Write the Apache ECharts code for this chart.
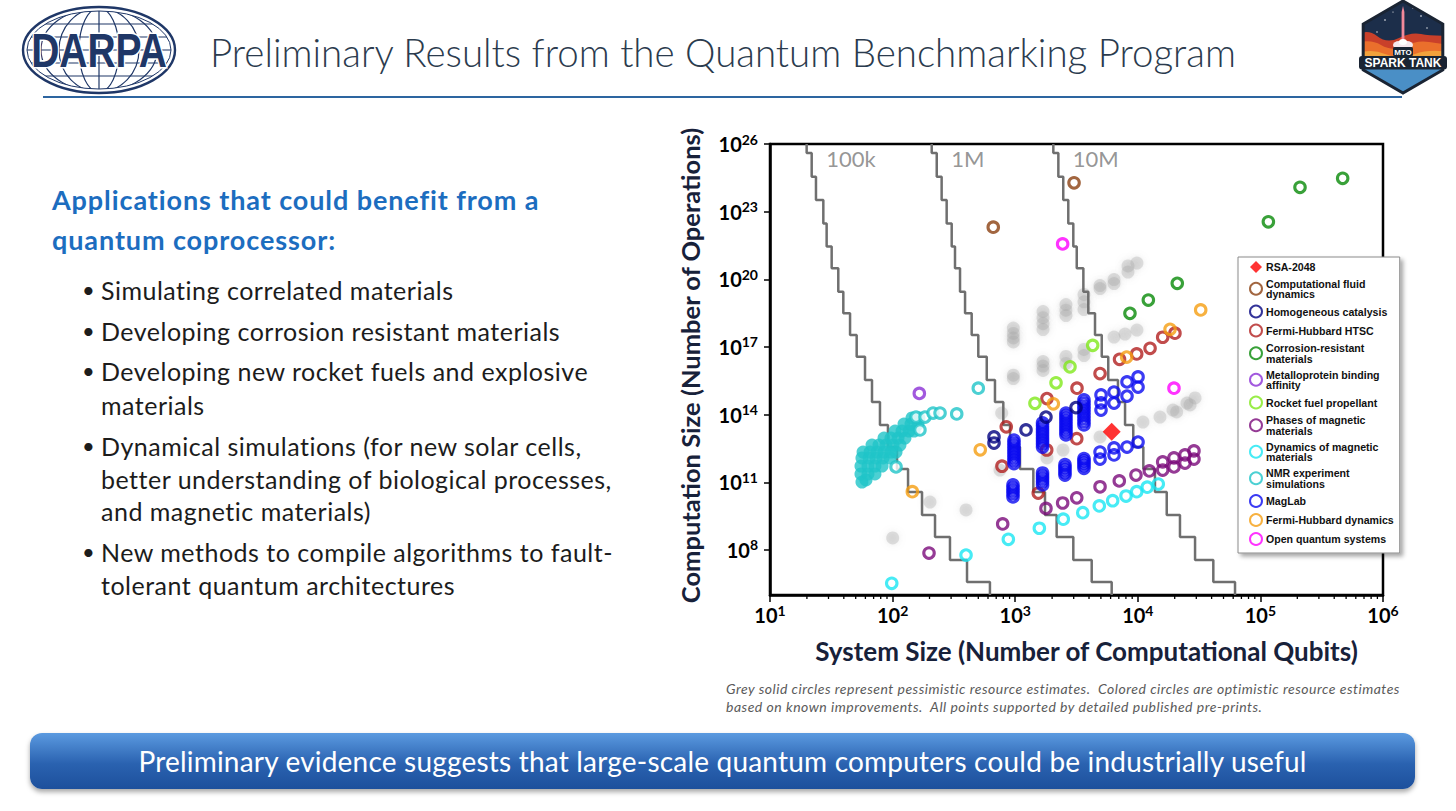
<!DOCTYPE html>
<html>
<head>
<meta charset="utf-8">
<title>Preliminary Results from the Quantum Benchmarking Program</title>
<script src="https://cdn.jsdelivr.net/npm/echarts@6.0.0/dist/echarts.min.js"></script>
<style>
  html, body { margin: 0; padding: 0; background: #fff; }
  body { width: 1456px; height: 811px; position: relative; overflow: hidden; font-family: Lato, "Open Sans", sans-serif; }
  #chart { position: absolute; left: 0; top: 0; width: 1456px; height: 811px; }
  .t { position: absolute; white-space: nowrap; }
  .title { left: 210px; top: 26px; line-height: 52px; font-size: 38.5px; font-weight: 300; color: #2b3b4e; }
  .head { left: 52px; line-height: 32px; font-size: 27px; letter-spacing: 0.9px; font-weight: bold; color: #1c6dbf; }
  .bul { left: 101px; line-height: 32px; font-size: 25px; letter-spacing: 0.5px; color: #1c1c1c; }
  .dot { position: absolute; left: -19px; font-size: 22px; }
  .note { left: 726px; line-height: 18px; font-size: 14px; letter-spacing: 0.5px; font-style: italic; color: #5a5a5a; }
  .rule { position: absolute; left: 43px; top: 95.5px; width: 1359px; height: 2.5px; background: #2d65a0; }
  .banner { position: absolute; left: 30px; top: 733px; width: 1385px; height: 56px; border-radius: 12px;
            background: linear-gradient(#5b9ae0, #2a62b0 55%, #1d509c); box-shadow: 0 3px 5px rgba(0,0,0,0.35);
            color: #fff; font-size: 28px; letter-spacing: 0.2px; line-height: 56px; text-align: center; }
</style>
</head>
<body>
<div id="chart"></div>

<svg style="position:absolute;left:0;top:0" width="200" height="100" viewBox="0 0 200 100">
  <defs><clipPath id="globe"><ellipse cx="99" cy="50" rx="72" ry="39"/></clipPath></defs>
  <g clip-path="url(#globe)" stroke="#1f3767" stroke-width="1.2" fill="none">
    <line x1="20" y1="24" x2="180" y2="24"/>
    <line x1="20" y1="37" x2="180" y2="37"/>
    <line x1="20" y1="50" x2="180" y2="50"/>
    <line x1="20" y1="63" x2="180" y2="63"/>
    <line x1="20" y1="76" x2="180" y2="76"/>
    <line x1="99" y1="0" x2="99" y2="100"/>
    <ellipse cx="99" cy="50" rx="20" ry="42"/>
    <ellipse cx="99" cy="50" rx="40" ry="42"/>
    <ellipse cx="99" cy="50" rx="58" ry="42"/>
  </g>
  <ellipse cx="99" cy="50" rx="76" ry="43" fill="none" stroke="#1f3767" stroke-width="2.4"/>
  <ellipse cx="99" cy="50" rx="72" ry="39" fill="none" stroke="#1f3767" stroke-width="1"/>
  <text transform="translate(99,67) scale(1,1.25)" text-anchor="middle" font-family="Liberation Sans Narrow, Liberation Sans" font-weight="bold"
        font-size="39" fill="#1f3767" stroke="#fff" stroke-width="2.5" paint-order="stroke">DARPA</text>
</svg>

<svg style="position:absolute;left:1355px;top:0" width="100" height="100" viewBox="0 0 100 100">
  <defs><clipPath id="hex"><polygon points="48,1 87.8,24 87.8,70 48,93 8.2,70 8.2,24"/></clipPath></defs>
  <g clip-path="url(#hex)">
    <rect x="0" y="0" width="100" height="100" fill="#1c2e4a"/>
    <circle cx="30" cy="20" r="0.8" fill="#fff"/><circle cx="66" cy="16" r="0.8" fill="#fff"/>
    <circle cx="72" cy="28" r="0.7" fill="#fff"/><circle cx="22" cy="32" r="0.7" fill="#fff"/>
    <circle cx="58" cy="8" r="0.7" fill="#fff"/><circle cx="38" cy="12" r="0.6" fill="#fff"/>
    <path d="M0,36 Q12,28 22,36 T44,38 T66,34 T100,36 L100,80 L0,80 Z" fill="#c9402a"/>
    <path d="M0,44 Q14,38 26,45 T50,46 T74,42 T100,45 L100,80 L0,80 Z" fill="#ea6f2c"/>
    <path d="M0,54 Q16,48 30,54 T60,54 T100,53 L100,80 L0,80 Z" fill="#f3a23c"/>
    <rect x="0" y="69" width="100" height="30" fill="#4a8fc6"/>
    <rect x="46.6" y="12" width="2.8" height="30" fill="#f2899a"/>
    <polygon points="46.6,12 48,6 49.4,12" fill="#f2899a"/>
    <ellipse cx="44" cy="45" rx="6" ry="4" fill="#f6e8ee"/>
    <ellipse cx="52" cy="45" rx="6" ry="4" fill="#f6e8ee"/>
    <ellipse cx="48" cy="42" rx="4" ry="3" fill="#fff"/>
  </g>
  <polygon points="48,1 87.8,24 87.8,70 48,93 8.2,70 8.2,24" fill="none" stroke="#1a2433" stroke-width="3"/>
  <rect x="38" y="47" width="20" height="9" rx="1.5" fill="#1a2433"/>
  <text x="48" y="54.6" text-anchor="middle" font-family="Liberation Sans" font-weight="bold" font-size="8" fill="#fff">MTO</text>
  <rect x="4" y="56" width="88" height="13.5" rx="3" fill="#1a2433"/>
  <text x="48" y="67" text-anchor="middle" font-family="Liberation Sans Narrow, Liberation Sans" font-weight="bold" font-size="12" fill="#fff">SPARK TANK</text>
</svg>

<div class="t title">Preliminary Results from the Quantum Benchmarking Program</div>
<div class="rule"></div>

<div class="t head" style="top:184px">Applications that could benefit from a</div>
<div class="t head" style="top:224px">quantum coprocessor:</div>

<div class="t bul" style="top:274px"><span class="dot">•</span>Simulating correlated materials</div>
<div class="t bul" style="top:315px"><span class="dot">•</span>Developing corrosion resistant materials</div>
<div class="t bul" style="top:355px"><span class="dot">•</span>Developing new rocket fuels and explosive</div>
<div class="t bul" style="top:389px">materials</div>
<div class="t bul" style="top:430px"><span class="dot">•</span>Dynamical simulations (for new solar cells,</div>
<div class="t bul" style="top:463px">better understanding of biological processes,</div>
<div class="t bul" style="top:495px">and magnetic materials)</div>
<div class="t bul" style="top:536px"><span class="dot">•</span>New methods to compile algorithms to fault-</div>
<div class="t bul" style="top:569px">tolerant quantum architectures</div>

<div class="t note" style="top:680px">Grey solid circles represent pessimistic resource estimates.&nbsp; Colored circles are optimistic resource estimates</div>
<div class="t note" style="top:698px">based on known improvements.&nbsp; All points supported by detailed published pre-prints.</div>

<div class="banner">Preliminary evidence suggests that large-scale quantum computers could be industrially useful</div>

<script>
// values are log10: x = log10(computational qubits), y = log10(operations)
const xTickExponents = [1, 2, 3, 4, 5, 6];
const yTickExponents = [8, 11, 14, 17, 20, 23, 26];

// staircase contours (physical-qubit budgets)
const stepLabels = ['100k', '1M', '10M'];
const stepLevels = [26, 25.6, 24.55, 23.52, 22.48, 21.45, 20.49, 19.45, 18.49, 17.53, 16.57, 15.53, 14.56, 13.54, 12.56, 11.59, 10.57, 9.55, 8.57, 7.55, 6.58, 6];
const line100kX = [1.299, 1.340, 1.375, 1.435, 1.462, 1.503, 1.557, 1.598, 1.653, 1.707, 1.775, 1.832, 1.897, 1.962, 2.036, 2.126, 2.240, 2.346, 2.468, 2.607, 2.794, 2.794];
const line1MX = [2.319, 2.360, 2.400, 2.441, 2.482, 2.509, 2.550, 2.591, 2.645, 2.699, 2.768, 2.835, 2.903, 2.958, 3.039, 3.148, 3.243, 3.338, 3.474, 3.624, 3.787, 3.787];
const line10MX = [3.311, 3.352, 3.392, 3.433, 3.474, 3.502, 3.556, 3.596, 3.651, 3.706, 3.759, 3.838, 3.896, 3.963, 4.045, 4.140, 4.236, 4.344, 4.467, 4.616, 4.793, 4.793];

// grey = pessimistic estimates
const greyPoints = [
  [2.985, 17.84], [2.985, 17.6], [2.985, 17.4], [2.985, 17.22], [2.985, 15.75], [2.985, 15.6],
  [3.227, 18.57], [3.227, 18.3], [3.227, 18.03], [3.227, 17.77], [3.227, 16.35], [3.227, 16.15], [3.227, 15.96],
  [3.414, 18.88], [3.414, 18.63], [3.414, 18.39], [3.414, 16.58], [3.414, 16.27],
  [3.561, 19.33], [3.561, 19.0], [3.561, 18.66], [3.561, 16.89], [3.561, 16.62],
  [3.692, 19.72], [3.692, 19.59], [3.806, 19.99], [3.806, 19.81],
  [3.806, 17.44], [3.896, 17.57], [3.993, 17.75], [3.920, 20.59], [3.920, 20.32], [3.993, 20.72],
  [2.890, 14.07], [2.876, 11.54], [2.305, 10.12], [2.599, 9.77], [2.001, 8.53],
  [3.692, 13.01], [3.390, 12.43], [3.259, 12.08], [4.042, 13.67], [4.181, 13.89], [4.287, 14.20],
  [4.317, 14.12], [4.401, 14.51], [4.426, 14.43], [4.467, 14.74]
];

const rsaPoint = [[3.787, 13.24]];
const cfdPoints = [[3.480, 24.28], [2.821, 22.31]];
const homogPoints = [[2.827, 13.01], [2.827, 12.74], [3.088, 13.32], [3.251, 13.89], [3.496, 14.31]];
const htscPoints = [
  [4.303, 17.61], [4.203, 17.43], [4.100, 16.94], [3.991, 16.69], [3.851, 16.45], [3.692, 15.82], [3.504, 15.17],
  [3.259, 14.71], [2.927, 13.46], [3.502, 12.93], [3.257, 12.43], [2.892, 11.71], [3.188, 10.52]
];
const corrosionPoints = [[3.936, 18.49], [4.086, 19.08], [4.322, 19.82], [5.065, 22.55], [5.323, 24.08], [5.671, 24.48]];
const metalloPoints = [[2.218, 14.94]];
const rocketPoints = [[3.161, 14.50], [3.333, 15.41], [3.447, 16.12], [3.632, 17.07]];
const phasesPoints = [
  [2.297, 7.86], [2.898, 9.15], [3.251, 9.84], [3.387, 10.08], [3.502, 10.31], [3.692, 10.80], [3.849, 11.06],
  [3.985, 11.32], [4.094, 11.50], [4.203, 11.54], [4.203, 11.90], [4.295, 11.68], [4.295, 12.08],
  [4.385, 11.85], [4.385, 12.21], [4.458, 12.03], [4.458, 12.39]
];
const dynamicsPoints = [
  [1.993, 6.52], [2.599, 7.77], [2.944, 8.47], [3.197, 8.96], [3.392, 9.36], [3.551, 9.65], [3.686, 9.95],
  [3.795, 10.18], [3.904, 10.39], [3.991, 10.58], [4.077, 10.78], [4.167, 10.92]
];
const nmrRingPoints = [[2.191, 13.89], [2.264, 13.89], [2.330, 14.07], [2.387, 14.07], [2.028, 11.68], [2.223, 13.32], [2.523, 14.03], [2.699, 15.17]];
const nmrDensePoints = [
  [1.750, 11.01], [1.783, 11.10],
  [1.742, 11.37], [1.799, 11.37], [1.856, 11.37],
  [1.742, 11.72], [1.799, 11.72], [1.856, 11.72], [1.914, 11.72],
  [1.750, 12.08], [1.808, 12.08], [1.865, 12.08], [1.922, 12.08], [1.979, 12.08],
  [1.759, 12.34], [1.816, 12.34], [1.873, 12.34], [1.930, 12.34], [1.987, 12.34], [2.028, 12.34],
  [1.832, 12.65], [1.889, 12.65], [1.946, 12.65], [2.003, 12.65], [2.060, 12.65],
  [1.930, 12.96], [1.987, 12.96], [2.044, 12.96], [2.101, 12.96],
  [2.020, 13.27], [2.077, 13.27], [2.134, 13.27], [2.175, 13.27],
  [2.093, 13.58], [2.150, 13.58], [2.207, 13.58],
  [2.158, 13.85], [2.215, 13.85]
];
const maglabPoints = [
  [2.990, 12.87], [2.990, 12.74], [2.990, 12.61], [2.990, 12.48], [2.990, 12.35], [2.990, 12.22], [2.990, 12.09], [2.990, 11.96], [2.990, 11.83],
  [2.982, 10.88], [2.982, 10.75], [2.982, 10.62], [2.982, 10.49], [2.982, 10.35],
  [3.223, 13.63], [3.223, 13.50], [3.223, 13.36], [3.223, 13.23], [3.223, 13.10], [3.223, 12.96], [3.223, 12.83], [3.223, 12.70], [3.223, 12.56],
  [3.223, 11.41], [3.223, 11.28], [3.223, 11.15], [3.223, 11.02], [3.223, 10.88],
  [3.414, 14.07], [3.414, 13.95], [3.414, 13.83], [3.414, 13.71], [3.414, 13.58], [3.414, 13.46], [3.414, 13.34], [3.414, 13.22], [3.414, 13.10],
  [3.406, 11.78], [3.406, 11.66], [3.406, 11.55], [3.406, 11.43], [3.406, 11.32],
  [3.561, 14.65], [3.561, 14.51], [3.561, 14.37], [3.561, 14.24], [3.561, 14.10], [3.561, 13.96], [3.561, 13.82], [3.561, 13.68], [3.561, 13.54],
  [3.561, 12.05], [3.561, 11.95], [3.561, 11.85], [3.561, 11.74], [3.561, 11.62],
  [3.700, 14.87], [3.700, 14.52], [3.700, 14.20], [3.806, 15.00], [3.806, 14.51], [3.912, 15.45], [3.912, 14.82],
  [4.002, 15.67], [4.002, 15.22], [3.692, 12.34], [3.692, 12.03], [3.806, 12.52], [3.806, 12.21], [3.912, 12.56], [4.002, 12.78]
];
const fhDynPoints = [[4.513, 18.64], [4.263, 17.78], [3.909, 16.55], [3.311, 14.48], [2.715, 12.44], [2.161, 10.58]];
const openPoints = [[3.387, 21.57], [4.295, 15.17]];

const NAMES = {
  rsa: 'RSA-2048', cfd: 'Computational fluid\ndynamics', homog: 'Homogeneous catalysis',
  htsc: 'Fermi-Hubbard HTSC', corr: 'Corrosion-resistant\nmaterials', metal: 'Metalloprotein binding\naffinity',
  rocket: 'Rocket fuel propellant', phases: 'Phases of magnetic\nmaterials', dyn: 'Dynamics of magnetic\nmaterials',
  nmr: 'NMR experiment\nsimulations', mag: 'MagLab', fhdyn: 'Fermi-Hubbard dynamics', open: 'Open quantum systems'
};

const sup = e => '{b|10}{s|' + e + '}';
const tickRich = {
  b: { fontFamily: 'Lato', fontWeight: 'bold', fontSize: 20, color: '#000', lineHeight: 24 },
  s: { fontFamily: 'Lato', fontWeight: 'bold', fontSize: 14, color: '#000', lineHeight: 14, verticalAlign: 'top' }
};
const titleStyle = { fontFamily: 'Lato', fontWeight: 'bold', fontSize: 26, color: '#17213a' };

function ring(name, data, color, fill) {
  return {
    name: name, type: 'scatter', data: data, symbol: 'circle', symbolSize: 10.5, z: 4,
    itemStyle: { color: fill || 'rgba(255,255,255,0)', borderColor: color, borderWidth: 3.1 }
  };
}

const series = [];
series.push({
  type: 'scatter', data: greyPoints, symbolSize: 13, z: 1, silent: true,
  itemStyle: { color: 'rgba(170,170,170,0.42)', shadowBlur: 6, shadowColor: 'rgba(150,150,150,0.6)' }
});
[line100kX, line1MX, line10MX].forEach(xs => {
  series.push({
    type: 'line', step: 'start', symbol: 'none', z: 2, silent: true,
    data: xs.map((x, i) => [x, stepLevels[i]]),
    lineStyle: { color: '#6f6f6f', width: 2.5 }
  });
});
series.push({
  type: 'scatter', symbolSize: 1, z: 2, silent: true, itemStyle: { color: 'rgba(0,0,0,0)' },
  data: [line100kX, line1MX, line10MX].map((xs, i) => ({ value: [xs[0], stepLevels[0]], name: stepLabels[i] })),
  label: { show: true, position: 'right', offset: [14, 14], formatter: p => p.name, fontFamily: 'Lato', fontSize: 22, color: '#7a7a7a' }
});
// minor log ticks on the x axis
const xMinorTicks = [];
xTickExponents.slice(0, -1).forEach(e => { for (let k = 2; k <= 9; k++) xMinorTicks.push(e + Math.log10(k)); });
series.push({
  type: 'custom', silent: true, z: 6, clip: false,
  data: xMinorTicks.map(v => [v, 6]),
  renderItem: (params, api) => {
    const p = api.coord([api.value(0), api.value(1)]);
    return { type: 'line', shape: { x1: p[0], y1: p[1], x2: p[0], y2: p[1] + 4 }, style: { stroke: '#000', lineWidth: 1.3 } };
  }
});

series.push({ name: NAMES.rsa, type: 'scatter', symbol: 'diamond', symbolSize: 18, z: 6, data: rsaPoint, itemStyle: { color: '#ff0000' } });
series.push(ring(NAMES.cfd, cfdPoints, '#8b4010'));
series.push(ring(NAMES.htsc, htscPoints, '#b21f1f'));
series.push(ring(NAMES.corr, corrosionPoints, '#088a08'));
series.push(ring(NAMES.metal, metalloPoints, '#8b2fd6'));
series.push(ring(NAMES.rocket, rocketPoints, '#80e81a'));
series.push(ring(NAMES.phases, phasesPoints, '#7a0a7a'));
series.push(ring(NAMES.dyn, dynamicsPoints, '#19e6f2'));
series.push(ring(NAMES.nmr, nmrRingPoints, '#1fc4c8', '#ffffff'));
series.push({ name: NAMES.nmr, type: 'scatter', data: nmrDensePoints, symbolSize: 13, z: 3, itemStyle: { color: '#1fc4c8' } });
series.push(ring(NAMES.mag, maglabPoints, '#0a0af0'));
series.push(ring(NAMES.homog, homogPoints, '#00007f'));
series.push(ring(NAMES.fhdyn, fhDynPoints, '#f59d10'));
series.push(ring(NAMES.open, openPoints, '#ff00ff'));

const chart = echarts.init(document.getElementById('chart'), null, { renderer: 'svg' });
chart.setOption({
  animation: false,
  grid: [
    { left: 770, top: 144, width: 613, height: 451, show: true, borderColor: '#000', borderWidth: 2.5, backgroundColor: 'rgba(0,0,0,0)' },
    { left: 770, top: 144, width: 613, height: 405.9, show: false }
  ],
  xAxis: [
    {
      gridIndex: 0, type: 'value', min: 1, max: 6, interval: 1,
      name: 'System Size (Number of Computational Qubits)', nameLocation: 'middle', nameGap: 43,
      nameTextStyle: Object.assign({ padding: [0, 0, 0, 20] }, titleStyle),
      axisLine: { show: true, onZero: false, lineStyle: { color: '#000', width: 2.5 } },
      axisTick: { show: true, length: 7, lineStyle: { color: '#000', width: 1.5 } },
      axisLabel: { margin: 8, formatter: (v, i) => sup(xTickExponents[i]), rich: tickRich },
      splitLine: { show: false }
    },
    { gridIndex: 1, type: 'value', min: 1, max: 6, show: false }
  ],
  yAxis: [
    {
      gridIndex: 0, type: 'value', min: 6, max: 26,
      name: 'Computation Size (Number of Operations)', nameLocation: 'middle', nameGap: 67, nameRotate: 90,
      nameTextStyle: Object.assign({ padding: [0, 0, 0, 8] }, titleStyle, { fontSize: 25.5 }),
      axisLine: { show: true, onZero: false, lineStyle: { color: '#000', width: 2.5 } },
      axisTick: { show: false }, axisLabel: { show: false }, splitLine: { show: false }
    },
    {
      gridIndex: 1, type: 'value', min: 0, max: 18, interval: 3,
      axisLine: { show: false },
      axisTick: { show: true, length: 6, lineStyle: { color: '#000', width: 1.5 } },
      axisLabel: { margin: 12, formatter: (v, i) => sup(yTickExponents[i]), rich: tickRich },
      splitLine: { show: false }
    }
  ],
  legend: {
    data: [NAMES.rsa, NAMES.cfd, NAMES.homog, NAMES.htsc, NAMES.corr, NAMES.metal, NAMES.rocket,
           NAMES.phases, NAMES.dyn, NAMES.nmr, NAMES.mag, NAMES.fhdyn, NAMES.open],
    orient: 'vertical', left: 1238, top: 257, z: 10,
    padding: [4, 6, 7, 11], itemGap: 5, itemWidth: 12, itemHeight: 12, selectedMode: false,
    backgroundColor: '#fff', borderColor: '#8a8a8a', borderWidth: 1,
    shadowBlur: 4, shadowOffsetX: 3, shadowOffsetY: 3, shadowColor: 'rgba(0,0,0,0.35)',
    textStyle: { fontFamily: 'Liberation Sans', fontWeight: 'bold', fontSize: 10.6, lineHeight: 10.5, color: '#111', padding: [0, 0, 0, -1] }
  },
  series: series
});
</script>
</body>
</html>
